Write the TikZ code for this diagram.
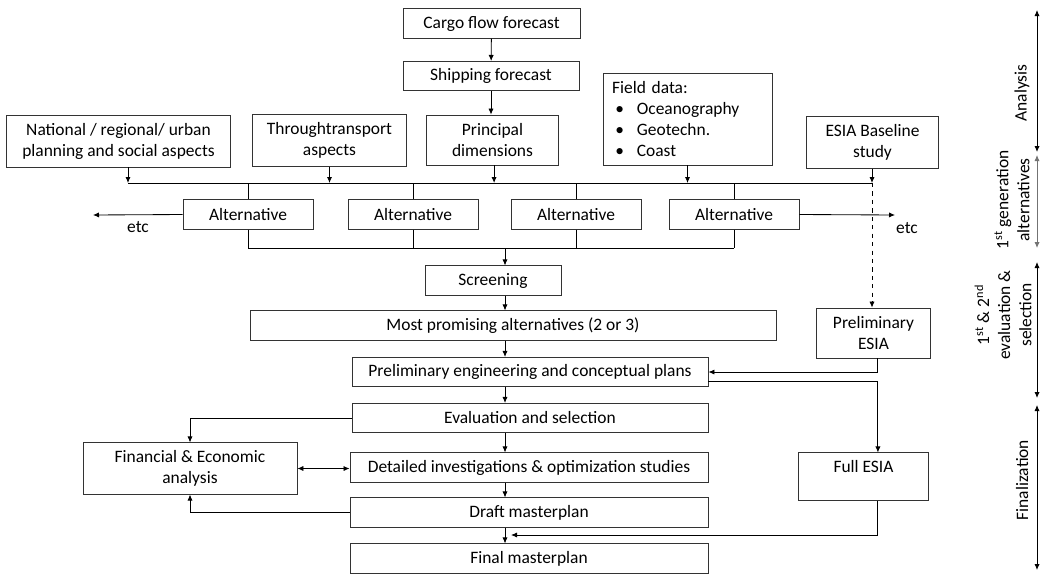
\documentclass[tikz,border=0pt]{standalone}
\usepackage{fontspec}
\setmainfont{Carlito}
\usepackage{tikz}
\usetikzlibrary{arrows.meta, positioning, calc}
\newcommand{\fielditem}[1]{\makebox[0.62cm][l]{\hspace{0.08cm}\textbullet}#1}

\begin{document}
\begin{tikzpicture}[
    x=0.025cm, y=-0.025cm,
    font=\fontsize{12.4}{15}\selectfont,
    box/.style={rectangle, draw=black!80, line width=0.6pt, align=center, minimum height=0.73cm, inner sep=2pt},
    arrow/.style={-{Latex[length=1.5mm, width=1.3mm]}, line width=0.6pt},
    twoway/.style={{Latex[length=1.5mm, width=1.3mm]}-{Latex[length=1.5mm, width=1.3mm]}, line width=0.6pt},
    link/.style={line width=0.6pt},
    phase/.style={rotate=90, align=center},
]
    \useasboundingbox (0,0) rectangle (1040,574);

    % inputs
    \node[box, minimum width=4.42cm] (cargo) at (491.5,23.5) {Cargo flow forecast};
    \node[box, minimum width=4.4cm] (ship) at (491,76) {Shipping forecast};
    \node[box, minimum width=3.28cm, minimum height=1.25cm] (princ) at (492.5,140) {Principal\\dimensions};
    \node[box, minimum height=2.3cm, inner xsep=0.225cm, text width=3.77cm, align=left] (field) at (687.5,119)
        {Field data:\\\fielditem{Oceanography}\\\fielditem{Geotechn.}\\\fielditem{Coast}};
    \node[box, minimum width=5.58cm, minimum height=1.3cm] (natl) at (118.5,141) {National / regional/ urban\\planning and social aspects};
    \node[box, minimum width=3.83cm, minimum height=1.3cm] (thru) at (329.5,140.5) {Throughtransport\\aspects};
    \node[box, minimum width=3.28cm, minimum height=1.28cm] (esia) at (872.5,142.5) {ESIA Baseline\\study};

    % alternatives
    \foreach \i/\x in {1/248, 2/413, 3/576, 4/734}
        \node[box, minimum width=3.25cm] (alt\i) at (\x,214.5) {Alternative};
    \node (etcl) at (138,227) {etc};
    \node (etcr) at (907,228) {etc};
    \coordinate (etclend) at (93,215);
    \coordinate (etcrend) at (895,215);

    % main chain
    \node[box, minimum width=3.4cm] (scr) at (493,280.5) {Screening};
    \node[box, minimum width=13.15cm] (most) at (513,325.5) {Most promising alternatives (2 or 3)};
    \node[box, minimum width=8.9cm] (peng) at (530,372) {Preliminary engineering and conceptual plans};
    \node[box, minimum width=8.9cm] (eval) at (530,418) {Evaluation and selection};
    \node[box, minimum width=8.95cm] (det) at (529,467.5) {Detailed investigations \& optimization studies};
    \node[box, minimum width=8.95cm] (draft) at (529,512.5) {Draft masterplan};
    \node[box, minimum width=8.95cm] (final) at (529,558.5) {Final masterplan};
    \node[box, minimum width=5.35cm, minimum height=1.28cm] (fin) at (190,468.5) {Financial \& Economic\\analysis};
    \node[box, minimum width=2.83cm, minimum height=1.25cm] (pesia) at (873.5,333) {Preliminary\\ESIA};
    \node[box, minimum width=3.23cm, minimum height=1.18cm] (fesia) at (863.5,476.5) {Full ESIA\\[-5pt]\strut};

    % phases
    \node[phase] (pAnalysis) at (1022,93) {Analysis};
    \node[phase] (pGen) at (1012,200) {1\textsuperscript{st} generation\\alternatives};
    \node[phase] (pEval) at (1003,315) {1\textsuperscript{st} \& 2\textsuperscript{nd}\\evaluation \&\\selection};
    \node[phase] (pFinal) at (1022,480) {Finalization};

    \coordinate (busL) at (128,183);
    \coordinate (busR) at (872,183);
    \coordinate (busB) at (248,248);
    \coordinate (spine) at (505,248);
    \coordinate (merge) at (511,535);

    % connectors
    \draw[arrow] (cargo) -- (ship);
    \draw[arrow] (ship.south) -- (ship.south |- princ.north);
    \draw[link] (busL) -- (busR);
    \draw[arrow] (natl.south -| busL) -- (busL);
    \draw[arrow] (thru.south) -- (thru.south |- busL);
    \draw[arrow] ([xshift=0.04cm]princ.south) -- ([xshift=0.04cm]princ.south |- busL);
    \draw[arrow] (field.south) -- (field.south |- busL);
    \draw[arrow] (esia.south -| busR) -- (busR);
    \draw[arrow, dashed] (busR) -- (busR |- pesia.north);
    \foreach \i in {1,...,4} {
        \draw[link] (alt\i.north |- busL) -- (alt\i.north);
        \draw[link] (alt\i.south) -- (alt\i.south |- busB);
    }
    \draw[link] (alt1.south |- busB) -- (alt4.south |- busB);
    \draw[arrow] (alt1.west) -- (etclend);
    \draw[arrow] (alt4.east) -- (etcrend);

    \draw[arrow] (spine) -- (spine |- scr.north);
    \draw[arrow] (scr.south -| spine) -- (most.north -| spine);
    \draw[arrow] (most.south -| spine) -- (peng.north -| spine);
    \draw[arrow] (peng.south -| spine) -- (eval.north -| spine);
    \draw[arrow] (eval.south -| spine) -- (det.north -| spine);
    \draw[arrow] (det.south -| spine) -- (draft.north -| spine);
    \draw[arrow] (draft.south -| spine) -- (final.north -| spine);

    \draw[arrow] ([xshift=0.11cm]pesia.south) |- (peng.east);
    \draw[arrow] ([yshift=-0.225cm]peng.east) -| ([xshift=0.36cm]fesia.north);
    \draw[arrow] ([xshift=0.36cm]fesia.south) |- (merge);
    \draw[arrow] (eval.west) -| (fin.north);
    \draw[twoway] (fin.east) -- (fin.east -| det.west);
    \draw[arrow] (draft.west) -| (fin.south);

    % phase brackets
    \foreach \ya/\yb/\c in {10/152/black, 155/248/black!55, 262/398/black, 405/570/black}
        \draw[twoway, draw=\c] (1037,\ya) -- (1037,\yb);
\end{tikzpicture}
\end{document}
